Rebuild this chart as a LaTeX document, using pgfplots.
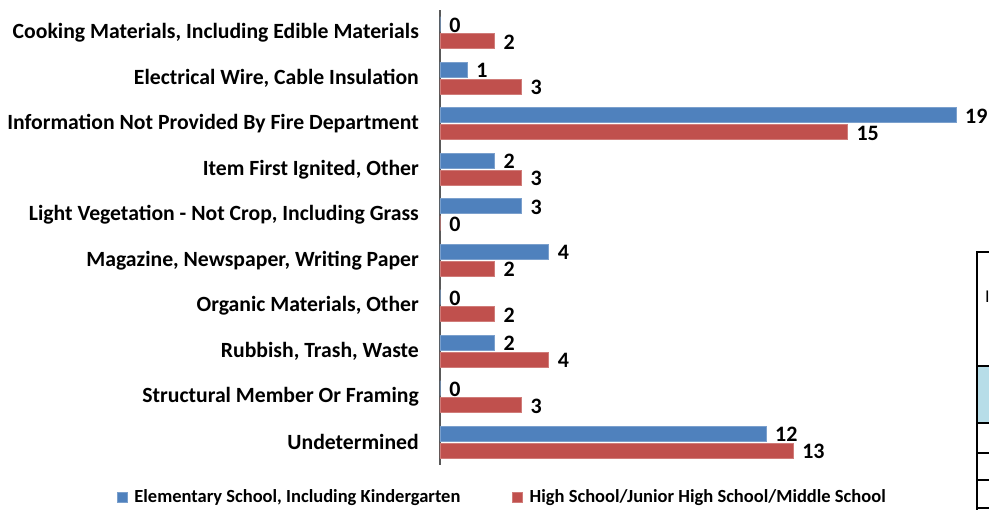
\documentclass[border=0pt]{standalone}
\usepackage{fontspec}
\setmainfont{Carlito}
\usepackage{pgfplots}
\pgfplotsset{compat=1.18}
\definecolor{cblue}{HTML}{4F81BD}
\definecolor{cred}{HTML}{C0504D}
\definecolor{tblue}{HTML}{B7DDE8}
\begin{document}
\begin{tikzpicture}[x=1pt,y=1pt]
\useasboundingbox (0,0) rectangle (989,510);
\begin{axis}[
  at={(440pt,45pt)}, anchor=south west,
  width=543pt, height=455pt, scale only axis,
  xbar, bar width=15pt,
  xmin=0, xmax=20, ymin=-0.5, ymax=9.5,
  separate axis lines,
  axis x line=none,
  axis y line=left,
  every outer y axis line/.append style={-},
  y axis line style={-, draw=black!65, line width=1.5pt},
  xtick=\empty,
  ytick={0,1,2,3,4,5,6,7,8,9},
  yticklabels={Undetermined, Structural Member Or Framing, {Rubbish, Trash, Waste}, {Organic Materials, Other}, {Magazine, Newspaper, Writing Paper}, Light Vegetation - Not Crop{,} Including Grass, {Item First Ignited, Other}, Information Not Provided By Fire Department, {Electrical Wire, Cable Insulation}, {Cooking Materials, Including Edible Materials}},
  major tick length=0pt,
  yticklabel style={font=\bfseries\fontsize{21.7}{26}\selectfont, inner sep=0pt, xshift=-21pt},
  /pgf/number format/assume math mode=true,
  nodes near coords,
  nodes near coords style={font=\bfseries\fontsize{22}{26}\selectfont, anchor=west, inner sep=0pt, xshift=9pt, yshift=-1pt},
  legend style={at={(-0.595,-0.0703)}, anchor=west, draw=none, fill=none,
    font=\bfseries\fontsize{18.5}{22}\selectfont, inner sep=0pt,
    /tikz/every even column/.append style={column sep=50pt}},
  legend columns=2,
  legend image code/.code={\fill[#1] (0pt,-5pt) rectangle (10pt,5pt); \path[draw=none,fill=none] (0pt,0pt) rectangle (15pt,0.1pt);},
  clip=false,
]
\addplot[fill=cblue, draw=cblue!75!white, line width=0.6pt, bar shift=8.5pt] coordinates {
 (0,9) (1,8) (19,7) (2,6) (3,5) (4,4) (0,3) (2,2) (0,1) (12,0)};
\addlegendentry{Elementary School, Including Kindergarten}
\addplot[fill=cred, draw=cred!75!white, line width=0.6pt, bar shift=-8.5pt] coordinates {
 (2,9) (3,8) (15,7) (3,6) (0,5) (2,4) (2,3) (4,2) (3,1) (13,0)};
\addlegendentry{High School/Junior High School/Middle School}
\end{axis}
\begin{scope}
\clip (0,0) rectangle (989,510);
\fill[tblue] (977,87) rectangle (995,144);
\draw[line width=1.6pt] (995,258) -- (977,258) -- (977,-5);
\foreach \yy in {144,87,57,30,2} {\draw[line width=1.6pt] (977,\yy) -- (995,\yy);}
\node[anchor=west, inner sep=0pt] at (985,213) {\fontsize{18}{22}\selectfont I};
\end{scope}
\end{tikzpicture}
\end{document}
